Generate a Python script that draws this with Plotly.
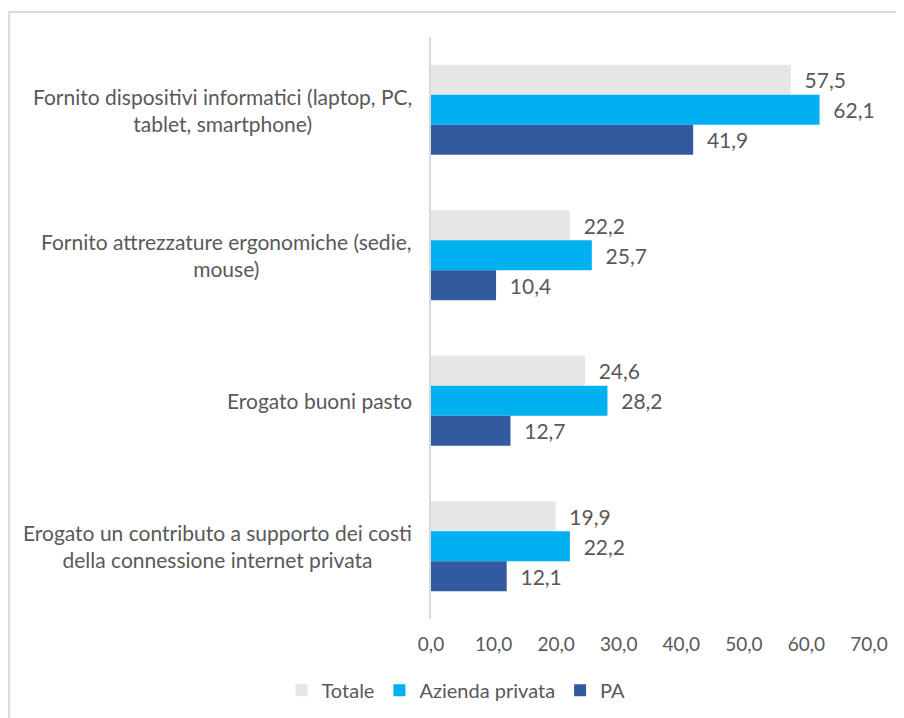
import plotly.graph_objects as go

categories = [
    "Fornito dispositivi informatici (laptop, PC,<br>tablet, smartphone)",
    "Fornito attrezzature ergonomiche (sedie,<br>mouse)",
    "Erogato buoni pasto",
    "Erogato un contributo a supporto dei costi<br>della connessione internet privata",
]
cat_keys = ["c1", "c2", "c3", "c4"]

totale = [57.5, 22.2, 24.6, 19.9]
azienda_privata = [62.1, 25.7, 28.2, 22.2]
pa = [41.9, 10.4, 12.7, 12.1]

series = [
    ("Totale", totale, "#e7e6e6"),
    ("Azienda privata", azienda_privata, "#00b0f0"),
    ("PA", pa, "#335a9f"),
]

FONT = "Lato"
TEXT_COLOR = "#595959"

fig = go.Figure()
for name, values, color in series:
    fig.add_trace(
        go.Bar(
            y=cat_keys,
            x=values,
            name=name,
            orientation="h",
            marker=dict(color=color, line=dict(width=0)),
            texttemplate="\u00a0\u00a0%{x:.1f}",
            textposition="outside",
            textfont=dict(family=FONT, size=21, color=TEXT_COLOR),
            cliponaxis=False,
        )
    )

# category labels, centred lines, block right-aligned to the axis
for key, label in zip(cat_keys, categories):
    fig.add_annotation(
        x=0, xref="paper", xanchor="right", xshift=-17,
        y=key, yref="y",
        text=label, showarrow=False, align="center",
        font=dict(family=FONT, size=21, color=TEXT_COLOR),
    )

# outer chart border (left and top edges visible, right edge runs off the page)
fig.add_shape(
    type="path", xref="paper", yref="paper",
    path="M -0.963,-0.3 L -0.963,1.043 L 1.08,1.043",
    line=dict(color="#d9d9d9", width=2),
)

fig.update_layout(
    width=896,
    height=710,
    margin=dict(l=423, r=35, t=29, b=99),
    paper_bgcolor="white",
    plot_bgcolor="white",
    separators=",.",
    barmode="group",
    bargap=0.38,
    bargroupgap=0,
    font=dict(family=FONT, size=19, color=TEXT_COLOR),
    xaxis=dict(
        range=[0, 70],
        dtick=10,
        tickformat=".1f",
        showgrid=False,
        zeroline=False,
        showline=False,
        ticks="",
        ticklabelstandoff=12,
        tickfont=dict(family=FONT, size=19, color=TEXT_COLOR),
    ),
    yaxis=dict(
        autorange="reversed",
        showticklabels=False,
        showgrid=False,
        zeroline=False,
        showline=True,
        linecolor="#d9d9d9",
        linewidth=2,
        ticks="",
    ),
    legend=dict(
        orientation="h",
        xref="container", yref="container",
        x=0.5, xanchor="center",
        y=0.039, yanchor="middle",
        font=dict(family=FONT, size=20, color=TEXT_COLOR),
        itemwidth=30,
    ),
    showlegend=True,
)

fig.write_html("out.html")
